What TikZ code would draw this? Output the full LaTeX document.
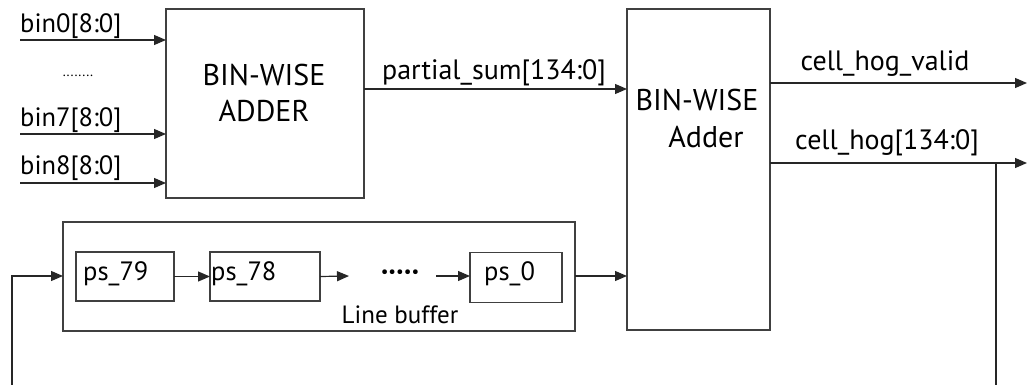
\documentclass[tikz,border=0pt]{standalone}
\usepackage{fontspec}
\setmainfont{PT Sans}
\usetikzlibrary{arrows.meta}
\begin{document}
\begin{tikzpicture}[x=1pt,y=-1pt,
  blk/.style={draw=black!75, line width=1.4pt, minimum width=#1, inner sep=0pt, outer sep=0pt},
  arr/.style={-{Triangle[length=12pt,width=10pt]}, line width=1.2pt, draw=black!85},
  wire/.style={line width=1.2pt, draw=black!85},
  lbl/.style={font=\fontsize{28}{30}\selectfont, inner sep=0pt},
  binl/.style={font=\fontsize{26.5}{28}\selectfont, inner sep=0pt},
  big/.style={font=\fontsize{30}{36}\selectfont, inner sep=0pt, align=center},
  mid/.style={font=\fontsize{26.5}{28}\selectfont, inner sep=0pt}]
\useasboundingbox (0,0) rectangle (1027,385);

% first bin-wise adder
\node[blk=198pt, minimum height=189pt] (a1) at (265,103.5) {};
\node[big] (a1t) at (264,93) {BIN-WISE\\ADDER};

% second bin-wise adder
\node[blk=143pt, minimum height=321pt] (a2) at (698.5,169.5) {};
\node[big] (a2t1) at (697,100) {BIN-WISE};
\node[big] (a2t2) at (706,137) {Adder};

% line buffer with its registers
\node[blk=512pt, minimum height=109pt] (lb) at (319,276.5) {};
\node[blk=98pt, minimum height=49pt] (p79) at (125,276.5) {};
\node[blk=110pt, minimum height=49pt] (p78) at (265,276.5) {};
\node[blk=92pt, minimum height=50pt] (p0) at (516,277.5) {};
\node[mid, anchor=west] (p79t) at (83,274) {ps\_79};
\node[mid, anchor=west] (p78t) at (211,274) {ps\_78};
\node[mid, anchor=west] (p0t) at (484,274) {ps\_0};
\node[font=\fontsize{25}{27}\selectfont, inner sep=0pt] (lbt) at (400,315) {Line buffer};
\node[font=\fontsize{17}{19}\selectfont, inner sep=0pt] (dots) at (400,274) {•••••};

% bin inputs
\coordinate (b0) at (20,40);
\coordinate (b7) at (20,134);
\coordinate (b8) at (20,183);
\draw[arr] (b0) -- (b0 -| a1.west);
\draw[arr] (b7) -- (b7 -| a1.west);
\draw[arr] (b8) -- (b8 -| a1.west);
\node[binl, anchor=west] (b0t) at (20,26) {bin0[8:0]};
\node[binl, anchor=west] (b7t) at (20,120) {bin7[8:0]};
\node[binl, anchor=west] (b8t) at (20,168) {bin8[8:0]};
\node[font=\fontsize{14}{16}\selectfont, inner sep=0pt] (bdots) at (78,76) {........};

% partial sum
\coordinate (ps) at (364,89);
\draw[arr] (ps) -- (ps -| a2.west);
\node[lbl] (pst) at (494,73) {partial\_sum[134:0]};

% outputs
\coordinate (v0) at (a2.east |- 0,83);
\coordinate (v1) at (1027,83);
\coordinate (h0) at (a2.east |- 0,163);
\coordinate (h1) at (1027,163);
\draw[arr] (v0) -- (v1);
\draw[arr] (h0) -- (h1);
\node[lbl] (vt) at (885,64) {cell\_hog\_valid};
\node[lbl] (ht) at (887,143) {cell\_hog[134:0]};

% feedback path
\coordinate (fb0) at (996,163);
\coordinate (fb1) at (996,385);
\draw[wire] (fb0) -- (fb1);
\coordinate (fi0) at (12,385);
\coordinate (fi1) at (12,276);
\draw[arr] (fi0) -- (fi1) -- (fi1 -| lb.west);

% data flow through the line buffer
\draw[arr] (p79.east) -- (p78.west);
\coordinate (d0) at (p78.east);
\coordinate (d1) at (349,276);
\draw[arr] (d0) -- (d1);
\coordinate (d2) at (436,276);
\draw[arr] (d2) -- (p0.west |- d2);
\draw[arr] (lb.east |- 0,276) -- (a2.west |- 0,276);
\end{tikzpicture}
\end{document}
